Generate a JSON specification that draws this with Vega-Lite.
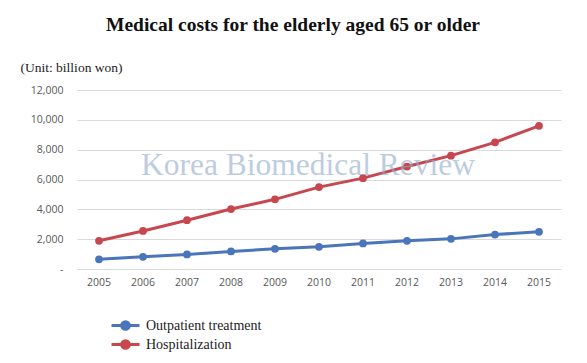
{
  "$schema": "https://vega.github.io/schema/vega-lite/v6.json",
  "width": 484,
  "height": 179,
  "autosize": {"type": "none"},
  "padding": {"left": 77, "top": 90, "right": 26, "bottom": 94},
  "background": "white",
  "config": {"view": {"stroke": null}},
  "title": {
    "text": "Medical costs for the elderly aged 65 or older",
    "font": "Liberation Serif",
    "fontSize": 19.5,
    "fontWeight": "bold",
    "color": "#111111",
    "anchor": "middle",
    "dx": -26,
    "offset": 25
  },
  "data": {
    "values": [
      {"year": "2005", "series": "Outpatient treatment", "cost": 650},
      {"year": "2006", "series": "Outpatient treatment", "cost": 820},
      {"year": "2007", "series": "Outpatient treatment", "cost": 980},
      {"year": "2008", "series": "Outpatient treatment", "cost": 1180},
      {"year": "2009", "series": "Outpatient treatment", "cost": 1350},
      {"year": "2010", "series": "Outpatient treatment", "cost": 1490},
      {"year": "2011", "series": "Outpatient treatment", "cost": 1710},
      {"year": "2012", "series": "Outpatient treatment", "cost": 1890},
      {"year": "2013", "series": "Outpatient treatment", "cost": 2020},
      {"year": "2014", "series": "Outpatient treatment", "cost": 2310},
      {"year": "2015", "series": "Outpatient treatment", "cost": 2490},
      {"year": "2005", "series": "Hospitalization", "cost": 1890},
      {"year": "2006", "series": "Hospitalization", "cost": 2550},
      {"year": "2007", "series": "Hospitalization", "cost": 3270},
      {"year": "2008", "series": "Hospitalization", "cost": 4020},
      {"year": "2009", "series": "Hospitalization", "cost": 4670},
      {"year": "2010", "series": "Hospitalization", "cost": 5490},
      {"year": "2011", "series": "Hospitalization", "cost": 6090},
      {"year": "2012", "series": "Hospitalization", "cost": 6870},
      {"year": "2013", "series": "Hospitalization", "cost": 7600},
      {"year": "2014", "series": "Hospitalization", "cost": 8490},
      {"year": "2015", "series": "Hospitalization", "cost": 9600}
    ]
  },
  "encoding": {
    "x": {
      "field": "year",
      "type": "ordinal",
      "scale": {"type": "band", "paddingInner": 0, "paddingOuter": 0},
      "axis": {
        "title": null,
        "labelAngle": 0,
        "labelFont": "Open Sans",
        "labelFontSize": 10.5,
        "labelColor": "#595959",
        "labelPadding": 8,
        "ticks": false,
        "domain": false,
        "grid": false
      }
    },
    "y": {
      "field": "cost",
      "type": "quantitative",
      "scale": {"domain": [0, 12000], "nice": false},
      "axis": {
        "values": [0, 2000, 4000, 6000, 8000, 10000, 12000],
        "labelExpr": "datum.value == 0 ? '-' : format(datum.value, ',')",
        "labelFont": "Open Sans",
        "labelFontSize": 10.5,
        "labelColor": "#595959",
        "labelPadding": 14,
        "ticks": false,
        "domain": false,
        "grid": true,
        "gridColor": "#d9d9d9",
        "gridWidth": 1,
        "title": "(Unit: billion won)",
        "titleAngle": 0,
        "titleAlign": "left",
        "titleBaseline": "middle",
        "titleX": -57,
        "titleY": -23,
        "titleFont": "Liberation Serif",
        "titleFontSize": 13.5,
        "titleFontWeight": "normal",
        "titleColor": "#222222"
      }
    }
  },
  "layer": [
    {
      "mark": {"type": "line", "strokeWidth": 3, "point": {"filled": true, "size": 60, "opacity": 1}},
      "encoding": {
        "color": {
          "field": "series",
          "type": "nominal",
          "sort": ["Outpatient treatment", "Hospitalization"],
          "scale": {"domain": ["Outpatient treatment", "Hospitalization"], "range": ["#4a75bb", "#c8474e"]},
          "legend": {
            "title": null,
            "orient": "none",
            "legendX": 40,
            "legendY": 227,
            "padding": 0,
            "symbolType": "M-2,0L2,0M-0.55,0A0.55,0.55,0,1,1,0.55,0A0.55,0.55,0,1,1,-0.55,0Z",
            "symbolSize": 196,
            "symbolStrokeWidth": 3,
            "labelOffset": 12,
            "rowPadding": -5,
            "labelFont": "Liberation Serif",
            "labelFontSize": 14,
            "labelColor": "#222222",
            "encode": {
              "symbols": {"update": {"fill": {"scale": "color", "field": "value"}, "stroke": {"scale": "color", "field": "value"}, "opacity": {"value": 1}}}
            }
          }
        }
      }
    },
    {
      "data": {"values": [{"label": "Korea Biomedical Review", "year": "2010", "cost": 6270}]},
      "mark": {"type": "text", "font": "Liberation Serif", "fontSize": 31.5, "fontWeight": "normal", "color": "#93abcc", "opacity": 0.6, "baseline": "alphabetic", "align": "center", "dx": -11},
      "encoding": {"text": {"field": "label"}}
    }
  ]
}
